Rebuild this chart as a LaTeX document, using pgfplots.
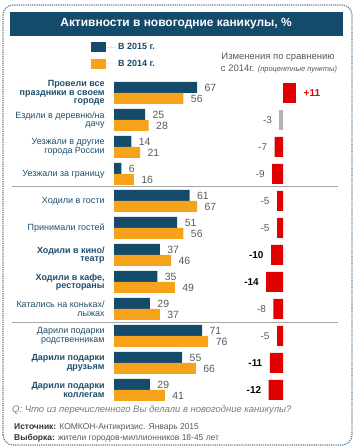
\documentclass[border=0pt]{standalone}
\usepackage{pgfplots}
\pgfplotsset{compat=1.18}
\usepackage{fontspec}
\setmainfont{Liberation Sans}
\definecolor{teal}{HTML}{154B6A}
\definecolor{orng}{HTML}{F7A21B}
\definecolor{myred}{HTML}{E00000}
\definecolor{lbl}{HTML}{1F4E6E}
\definecolor{txtgray}{HTML}{595959}
\definecolor{brd}{HTML}{5E7D92}
\begin{document}
\begin{tikzpicture}
\useasboundingbox (0bp,0bp) rectangle (358bp,448bp);
% border
\draw[brd, densely dotted, line width=1.2bp, rounded corners=10bp] (3bp,3bp) rectangle (352bp,443bp);
% title bar
\fill[teal] (10bp,412bp) rectangle (343bp,436bp);
\node[white, font=\fontsize{12}{14}\selectfont\bfseries] at (176bp,424bp) {Активности в новогодние каникулы, \%};
% change header
\node[txtgray, font=\fontsize{9.5}{10}\selectfont] at (278bp,391bp) {Изменения по сравнению};
\node[txtgray, font=\fontsize{9.5}{10}\selectfont] at (279bp,379bp) {с 2014г. {\fontsize{7.5}{8}\selectfont\itshape (процентные пункты)}};
% separators
\draw[gray!70, line width=0.6bp] (12bp,262bp) -- (338bp,262bp);
\draw[gray!70, line width=0.6bp] (12bp,126bp) -- (338bp,126bp);
% footer
\node[txtgray!80, anchor=west, inner sep=0pt, font=\fontsize{9.5}{10}\selectfont\itshape] at (12bp,38bp) {Q: Что из перечисленного Вы делали в новогодние каникулы?};
\node[anchor=west, inner sep=0pt, font=\fontsize{8.5}{9}\selectfont, text=txtgray] at (14bp,21bp) {\textbf{\color{black!80}Источник:} КОМКОН-Антикризис. Январь 2015};
\node[anchor=west, inner sep=0pt, font=\fontsize{8.5}{9}\selectfont, text=txtgray] at (14bp,10bp) {\textbf{\color{black!80}Выборка:} жители городов-миллионников 18-45 лет};

\begin{axis}[
  at={(114bp,44.5bp)}, anchor=south west,
  scale only axis, width=124bp, height=324bp,
  xmin=0, xmax=100, ymin=-0.5, ymax=11.5,
  xbar, bar width=11bp,
  axis line style={draw=none}, major tick style={draw=none},
  xtick=\empty,
  ytick={0,...,11},
  yticklabels={
    {\bfseries Дарили подарки\\\bfseries коллегам},
    {\bfseries Дарили подарки\\\bfseries друзьям},
    {Дарили подарки\\родственникам},
    {Катались на коньках/\\лыжах},
    {\bfseries Ходили в кафе,\\\bfseries рестораны},
    {\bfseries Ходили в кино/\\\bfseries театр},
    {Принимали гостей},
    {Ходили в гости},
    {Уезжали за границу},
    {Уезжали в другие\\города России},
    {Ездили в деревню/на\\дачу},
    {\bfseries Провели все\\\bfseries праздники в своем\\\bfseries городе}},
  yticklabel style={align=right, text=lbl, font=\fontsize{9}{8.6}\selectfont, inner sep=0pt, xshift=-5bp},
  /pgf/number format/assume math mode=true,
  nodes near coords,
  nodes near coords style={text=txtgray, font=\fontsize{10.5}{11}\selectfont, xshift=4bp},
  clip=false,
  legend style={at={(-0.21,1.125)}, anchor=north west, draw=none, fill=none,
     font=\fontsize{9}{10}\selectfont\bfseries, text=teal, row sep=5bp,
     /tikz/every even column/.append style={column sep=6bp}},
  legend cell align=left,
]
\addplot[fill=teal, draw=none, bar shift=5.5bp,
  legend image code/.code={\fill[teal] (0bp,-5bp) rectangle (15bp,5bp); \path (15bp,0bp) -- (25bp,0bp);}]
  coordinates {(29,0) (55,1) (71,2) (29,3) (35,4) (37,5) (51,6) (61,7) (6,8) (14,9) (25,10) (67,11)};
\addlegendentry{В 2015 г.}
\addplot[fill=orng, draw=none, bar shift=-5.5bp,
  legend image code/.code={\fill[orng] (0bp,-5bp) rectangle (15bp,5bp); \path (15bp,0bp) -- (25bp,0bp);}]
  coordinates {(41,0) (66,1) (76,2) (37,3) (49,4) (46,5) (56,6) (67,7) (16,8) (21,9) (28,10) (56,11)};
\addlegendentry{В 2014 г.}
\end{axis}

\begin{axis}[
  at={(259bp,44.5bp)}, anchor=south west,
  scale only axis, width=42bp, height=324bp,
  xmin=-20, xmax=15, ymin=-0.5, ymax=11.5,
  xbar, bar width=20bp, bar shift=0pt,
  axis line style={draw=none}, major tick style={draw=none},
  xtick=\empty, ytick=\empty,
  point meta=explicit symbolic,
  nodes near coords,
  nodes near coords style={text=txtgray, font=\fontsize{10}{11}\selectfont, anchor=east, xshift=-4bp},
  clip=false,
]
\addplot[fill=myred, draw=none] coordinates {
  (-12,0) [\textbf{\color{black}-12}]
  (-11,1) [\textbf{\color{black}-11}]
  (-5,2) [-5]
  (-8,3) [-8]
  (-14,4) [\textbf{\color{black}-14}]
  (-10,5) [\textbf{\color{black}-10}]
  (-5,6) [-5]
  (-5,7) [-5]
  (-9,8) [-9]
  (-7,9) [-7]
};
\addplot[fill=gray!60, draw=none] coordinates {(-3,10) [-3]};
\addplot[fill=myred, draw=none, nodes near coords style={anchor=west, xshift=8bp}] coordinates {(11,11) [\textbf{\color{myred}+11}]};
\end{axis}
\end{tikzpicture}
\end{document}
